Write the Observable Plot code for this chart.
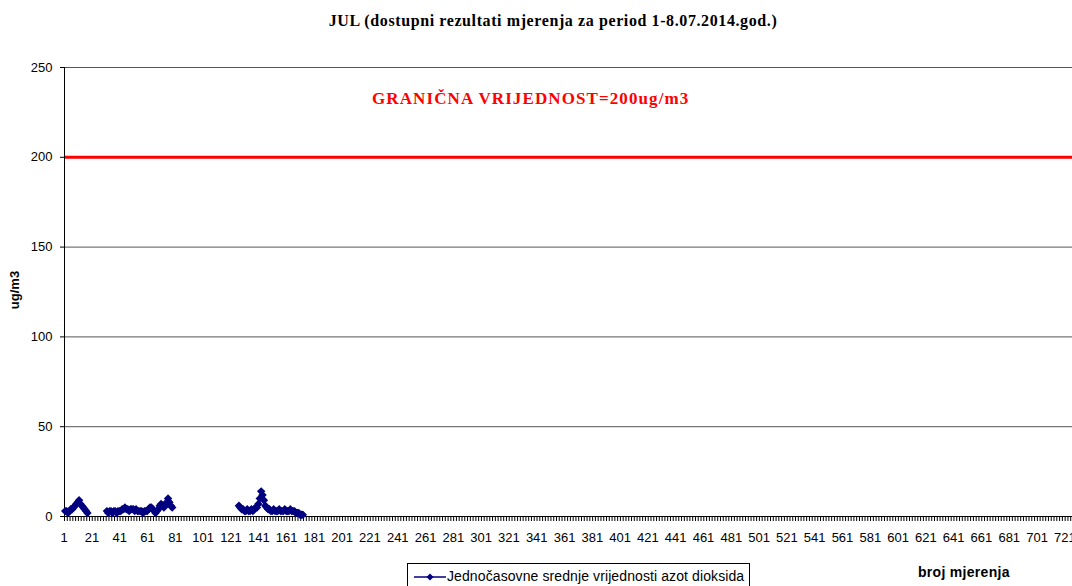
<!DOCTYPE html>
<html>
<head>
<meta charset="utf-8">
<script src="https://cdn.jsdelivr.net/npm/d3@7"></script>
<script src="https://cdn.jsdelivr.net/npm/@observablehq/plot@0.6"></script>
<style>
  html, body { margin: 0; padding: 0; background: #fff; }
  #wrap { position: relative; width: 1072px; height: 586px; overflow: hidden; background: #fff; }
  #chart { position: absolute; left: 0; top: 0; width: 1098px; }
  #chart svg { max-width: none !important; }
  .title { position: absolute; top: 12px; left: 0; width: 1106px; text-align: center;
    font-family: "Liberation Serif", "Times New Roman", serif; font-weight: bold; font-size: 16px; letter-spacing: 0.6px; color: #000; white-space: nowrap; }
  .limit { position: absolute; left: 372px; top: 89px; font-family: "Liberation Serif", "Times New Roman", serif;
    font-weight: bold; font-size: 17px; letter-spacing: 1.1px; color: #ff0000; white-space: nowrap; }
  .ylab { position: absolute; left: 14px; top: 290px; transform: translate(-50%, -50%) rotate(-90deg);
    font-family: "Liberation Sans", Arial, sans-serif; font-weight: bold; font-size: 13px; white-space: nowrap; }
  .xlab { position: absolute; left: 918px; top: 564px; font-family: "Liberation Sans", Arial, sans-serif;
    font-weight: bold; font-size: 14px; letter-spacing: 0.3px; white-space: nowrap; }
  .legend { position: absolute; left: 407px; top: 563px; width: 343px; height: 30px; border: 1px solid #000; box-sizing: border-box;
    font-family: "Liberation Sans", Arial, sans-serif; font-size: 14px; letter-spacing: 0.1px; white-space: nowrap; background: #fff; }
  .legend svg { position: absolute; left: 5px; top: 6px; }
  .legend span { position: absolute; left: 39px; top: 4px; }
</style>
</head>
<body>
<div id="wrap">
  <div id="chart"></div>
  <div class="title">JUL (dostupni rezultati mjerenja za period 1-8.07.2014.god.)</div>
  <div class="limit">GRANIČNA VRIJEDNOST=200ug/m3</div>
  <div class="ylab">ug/m3</div>
  <div class="xlab">broj mjerenja</div>
  <div class="legend">
    <svg width="34" height="14"><line x1="1" y1="7" x2="33" y2="7" stroke="#000080" stroke-width="1.5"/><path d="M17,3.5L20.5,7L17,10.5L13.5,7Z" fill="#000080"/></svg>
    <span>Jednočasovne srednje vrijednosti azot dioksida</span>
  </div>
</div>
<script>
// Hourly NO2 averages (ug/m3), three measured stretches
const seg1Start = 1;
const seg1 = [3, 3, 2, 3, 4, 4, 5, 6, 7, 8, 9, 7, 6, 5, 4, 3, 2];
const seg2Start = 31;
const seg2 = [3, 2, 3, 3, 2, 3, 3, 2, 3, 3, 3, 4, 4, 5, 4, 4, 3, 4, 4, 4, 3, 4, 3, 3,
              3, 3, 2, 3, 3, 3, 4, 5, 5, 4, 3, 2, 3, 4, 6, 7, 6, 5, 6, 8, 10, 8, 6, 5];
const seg3Start = 126;
const seg3 = [6, 5, 4, 4, 3, 3, 4, 3, 3, 4, 3, 4, 5, 5, 7, 10, 14, 12, 9, 6, 5, 4, 4, 3,
              3, 4, 3, 3, 3, 4, 3, 3, 3, 4, 3, 3, 3, 4, 3, 3, 3, 2, 2, 2, 1, 1, 1];
const nCategories = 744;
const limitValue = 200;
const yTicks = [0, 50, 100, 150, 200, 250];
const xTickLabels = [1, 21, 41, 61, 81, 101, 121, 141, 161, 181, 201, 221, 241, 261, 281, 301, 321, 341, 361,
  381, 401, 421, 441, 461, 481, 501, 521, 541, 561, 581, 601, 621, 641, 661, 681, 701, 721];

const rows = [];
[[seg1Start, seg1], [seg2Start, seg2], [seg3Start, seg3]].forEach(([start, vals], s) => {
  vals.forEach((v, k) => rows.push({i: start + k, v, seg: s}));
});
const minorTicks = d3.range(0.5, nCategories + 1, 2);

const chart = Plot.plot({
  width: 1098, height: 586,
  marginTop: 67, marginBottom: 70, marginLeft: 64, marginRight: 0,
  x: {type: "linear", domain: [0.5, nCategories + 0.5], axis: null, label: null},
  y: {domain: [0, 250], axis: null, label: null},
  style: {fontFamily: "'Liberation Sans', Arial, sans-serif", fontSize: "13px", color: "#000", background: "#fff", maxWidth: "none"},
  marks: [
    Plot.ruleY(yTicks.filter(d => d > 0 && d !== limitValue), {stroke: "#555", strokeWidth: 1}),
    Plot.ruleY([limitValue], {stroke: "#ff0000", strokeWidth: 3}),
    Plot.ruleY([0], {stroke: "#000"}),
    Plot.ruleX([0.5], {stroke: "#000"}),
    Plot.axisY({ticks: yTicks, tickSize: 4, tickPadding: 8, anchor: "left", label: null}),
    Plot.axisX({ticks: minorTicks, tickSize: 5, tickFormat: () => "", anchor: "bottom", label: null}),
    Plot.axisX({ticks: xTickLabels, tickSize: 0, tickPadding: 16, anchor: "bottom", label: null, dx: -1}),
    Plot.line(rows, {x: "i", y: "v", z: "seg", stroke: "#000080", strokeWidth: 1.5}),
    Plot.dot(rows, {x: "i", y: "v", symbol: "diamond2", r: 3.8, fill: "#000080"})
  ]
});
document.getElementById("chart").appendChild(chart);
</script>
</body>
</html>
